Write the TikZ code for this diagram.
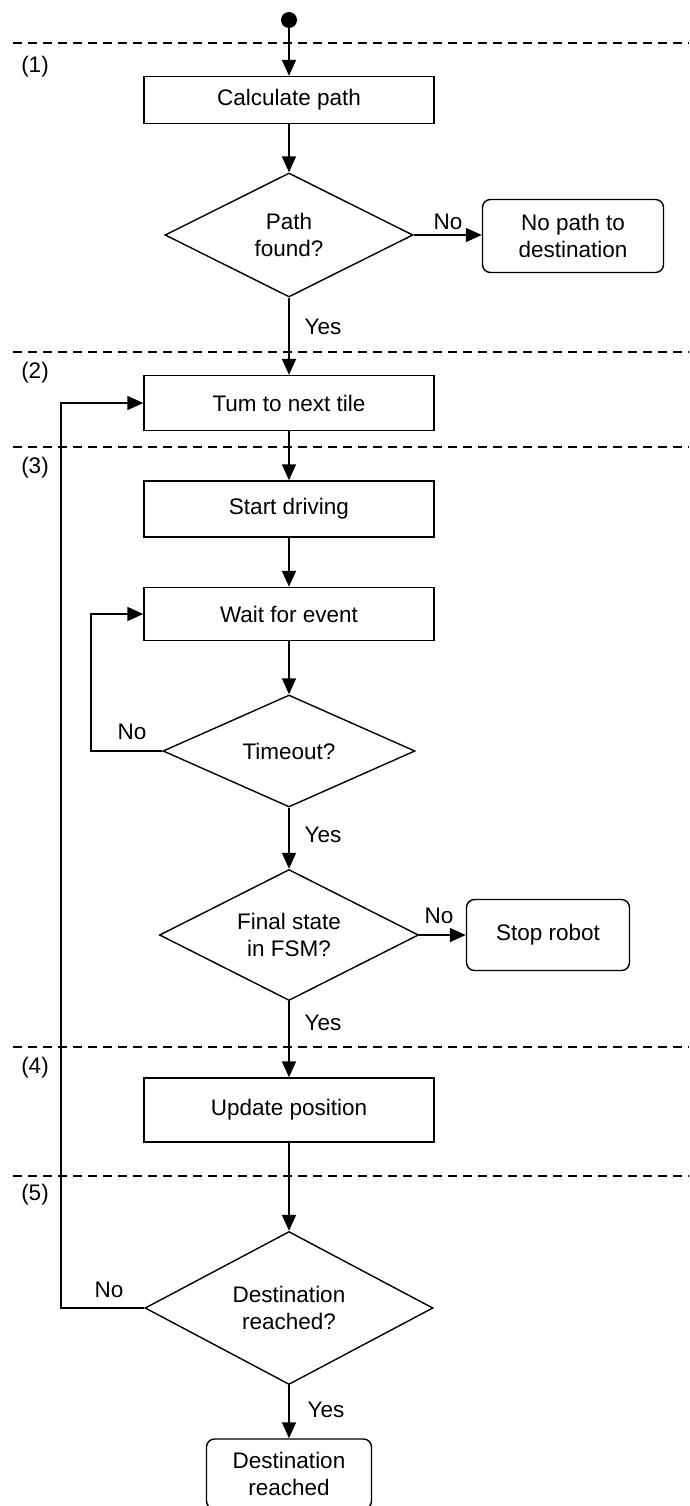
\documentclass[tikz,border=0pt]{standalone}
\usepackage{fontspec}
\setmainfont{Liberation Sans}
\usetikzlibrary{shapes.geometric,arrows.meta}
\begin{document}
\begin{tikzpicture}[x=1pt,y=-1pt,
  every node/.style={font=\fontsize{22.5}{27}\selectfont},
  box/.style={draw,line width=1.4pt,minimum width=290pt,inner sep=0pt,align=center},
  rbox/.style={draw,line width=1.4pt,rounded corners=8pt,inner sep=0pt,align=center},
  dia/.style={draw,diamond,line width=1.4pt,inner sep=0pt,align=center},
  arr/.style={line width=1.7pt,-{Triangle[length=16pt,width=14pt]}},
  sep/.style={line width=1.4pt,dash pattern=on 9pt off 6pt},
  lbl/.style={inner sep=0pt}
]
\useasboundingbox (0,0) rectangle (689,1506);

% separators
\draw[sep] (13,43) -- (689,43);
\draw[sep] (13,352) -- (689,352);
\draw[sep] (13,447) -- (689,447);
\draw[sep] (13,1047) -- (689,1047);
\draw[sep] (13,1176) -- (689,1176);
\node[lbl] (p1) at (35,67) {(1)};
\node[lbl] (p2) at (35,373) {(2)};
\node[lbl] (p3) at (35,468) {(3)};
\node[lbl] (p4) at (35,1068) {(4)};
\node[lbl] (p5) at (35,1195) {(5)};

% nodes
\node[circle,fill,inner sep=0pt,minimum size=16pt] (s0) at (289,20) {};
\node[box,minimum height=47pt] (calc) at (289,100) {Calculate path};
\node[dia,minimum width=248pt,minimum height=124pt,aspect=2] (found) at (289,235) {Path\\found?};
\node[rbox,minimum width=181pt,minimum height=73pt] (nopath) at (573,236) {No path to\\destination};
\node[box,minimum height=55pt] (turn) at (289,403) {Tum to next tile};
\node[box,minimum height=56pt] (start) at (289,509) {Start driving};
\node[box,minimum height=53pt] (wait) at (289,614) {Wait for event};
\node[dia,minimum width=252pt,minimum height=112pt,aspect=2.25] (tout) at (289,751) {Timeout?};
\node[dia,minimum width=259pt,minimum height=131pt,aspect=1.98] (final) at (289,935) {Final state\\in FSM?};
\node[rbox,minimum width=163pt,minimum height=71pt] (stop) at (548,935) {Stop robot};
\node[box,minimum height=64pt] (upd) at (289,1110) {Update position};
\node[dia,minimum width=288pt,minimum height=153pt,aspect=1.88] (dest) at (289,1308) {Destination\\reached?};
\node[rbox,minimum width=165pt,minimum height=70pt] (reached) at (289,1474) {Destination\\reached};

% connectors
\draw[arr] (s0) -- (calc);
\draw[arr] (calc) -- (found);
\draw[arr] (found.east) -- (nopath.west |- found.east);
\draw[arr] (found) -- (turn);
\draw[arr] (turn) -- (start);
\draw[arr] (start) -- (wait);
\draw[arr] (wait) -- (tout);
\draw[arr] (tout.west) -- ++(-71,0) |- (wait.west);
\draw[arr] (tout) -- (final);
\draw[arr] (final.east) -- (stop.west);
\draw[arr] (final) -- (upd);
\draw[arr] (upd) -- (dest);
\draw[arr] (dest.west) -- ++(-83,0) |- (turn.west);
\draw[arr] (dest) -- (reached);

% branch labels
\node[lbl] (n1) at (448,222) {No};
\node[lbl] (y1) at (323,327) {Yes};
\node[lbl] (n2) at (132,732) {No};
\node[lbl] (y2) at (323,835) {Yes};
\node[lbl] (n3) at (439,916) {No};
\node[lbl] (y3) at (323,1023) {Yes};
\node[lbl] (n4) at (109,1290) {No};
\node[lbl] (y4) at (326,1410) {Yes};
\end{tikzpicture}
\end{document}
